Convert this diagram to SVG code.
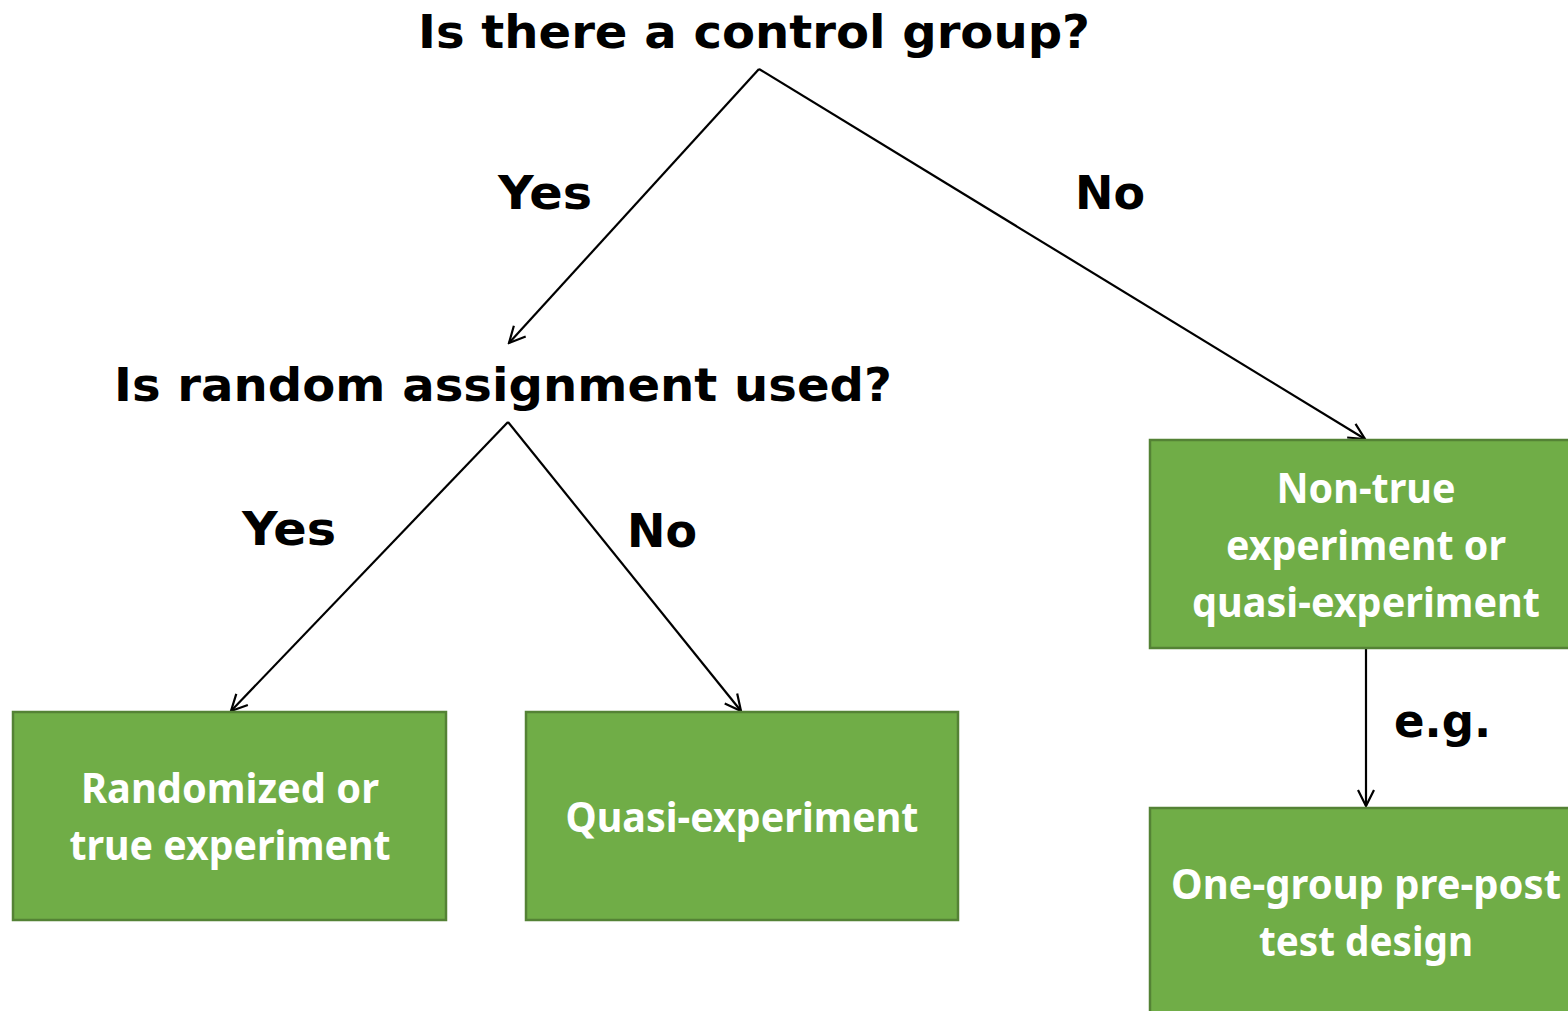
<svg xmlns="http://www.w3.org/2000/svg" width="1568" height="1011" viewBox="0 0 1568 1011">
<style>
.q{font-family:"DejaVu Sans","Liberation Sans",sans-serif;font-weight:bold;font-size:46px;fill:#000}
.b{fill:#70AD47;stroke:#548235;stroke-width:2.5}
.t{font-family:"Noto Sans","Open Sans",sans-serif;font-weight:bold;font-size:41px;fill:#fff;text-anchor:middle}
.c{stroke:#000;stroke-width:2.2;fill:none}
</style>
<defs>
<marker id="ah" markerUnits="userSpaceOnUse" markerWidth="24" markerHeight="24" viewBox="0 0 24 24" refX="22" refY="12" orient="auto">
<path d="M6,4 L22,12 L6,20" fill="none" stroke="#000" stroke-width="2.2"/>
</marker>
</defs>
<rect width="1568" height="1011" fill="#fff"/>
<g id="connectors">
<line class="c" x1="759" y1="69" x2="509" y2="343" marker-end="url(#ah)"/>
<line class="c" x1="759" y1="69" x2="1365" y2="439" marker-end="url(#ah)"/>
<line class="c" x1="508" y1="422" x2="231" y2="711" marker-end="url(#ah)"/>
<line class="c" x1="508" y1="422" x2="741" y2="711" marker-end="url(#ah)"/>
<line class="c" x1="1366" y1="648" x2="1366" y2="806" marker-end="url(#ah)"/>
</g>
<g id="labels">
<text class="q" x="498" y="209" textLength="94" lengthAdjust="spacingAndGlyphs">Yes</text>
<text class="q" x="1075" y="209" textLength="70" lengthAdjust="spacingAndGlyphs">No</text>
<text class="q" x="242" y="545" textLength="94" lengthAdjust="spacingAndGlyphs">Yes</text>
<text class="q" x="627" y="547" textLength="70" lengthAdjust="spacingAndGlyphs">No</text>
<text class="q" x="1394" y="737" textLength="97" lengthAdjust="spacingAndGlyphs">e.g.</text>
</g>
<g id="q1"><text class="q" x="418" y="48" textLength="672" lengthAdjust="spacingAndGlyphs">Is there a control group?</text></g>
<g id="q2"><text class="q" x="114" y="401" textLength="778" lengthAdjust="spacingAndGlyphs">Is random assignment used?</text></g>
<g id="randomized">
<rect class="b" x="13" y="712" width="433" height="208"/>
<text class="t" x="230" y="803" textLength="298" lengthAdjust="spacingAndGlyphs">Randomized or</text>
<text class="t" x="230" y="860" textLength="321" lengthAdjust="spacingAndGlyphs">true experiment</text>
</g>
<g id="quasi">
<rect class="b" x="526" y="712" width="432" height="208"/>
<text class="t" x="742" y="832" textLength="353" lengthAdjust="spacingAndGlyphs">Quasi-experiment</text>
</g>
<g id="nontrue">
<rect class="b" x="1150" y="440" width="430" height="208"/>
<text class="t" x="1366" y="503" textLength="179" lengthAdjust="spacingAndGlyphs">Non-true</text>
<text class="t" x="1366" y="560" textLength="280" lengthAdjust="spacingAndGlyphs">experiment or</text>
<text class="t" x="1366" y="617" textLength="348" lengthAdjust="spacingAndGlyphs">quasi-experiment</text>
</g>
<g id="onegroup">
<rect class="b" x="1150" y="808" width="430" height="220"/>
<text class="t" x="1366" y="899" textLength="390" lengthAdjust="spacingAndGlyphs">One-group pre-post</text>
<text class="t" x="1366" y="956" textLength="214" lengthAdjust="spacingAndGlyphs">test design</text>
</g>
</svg>
